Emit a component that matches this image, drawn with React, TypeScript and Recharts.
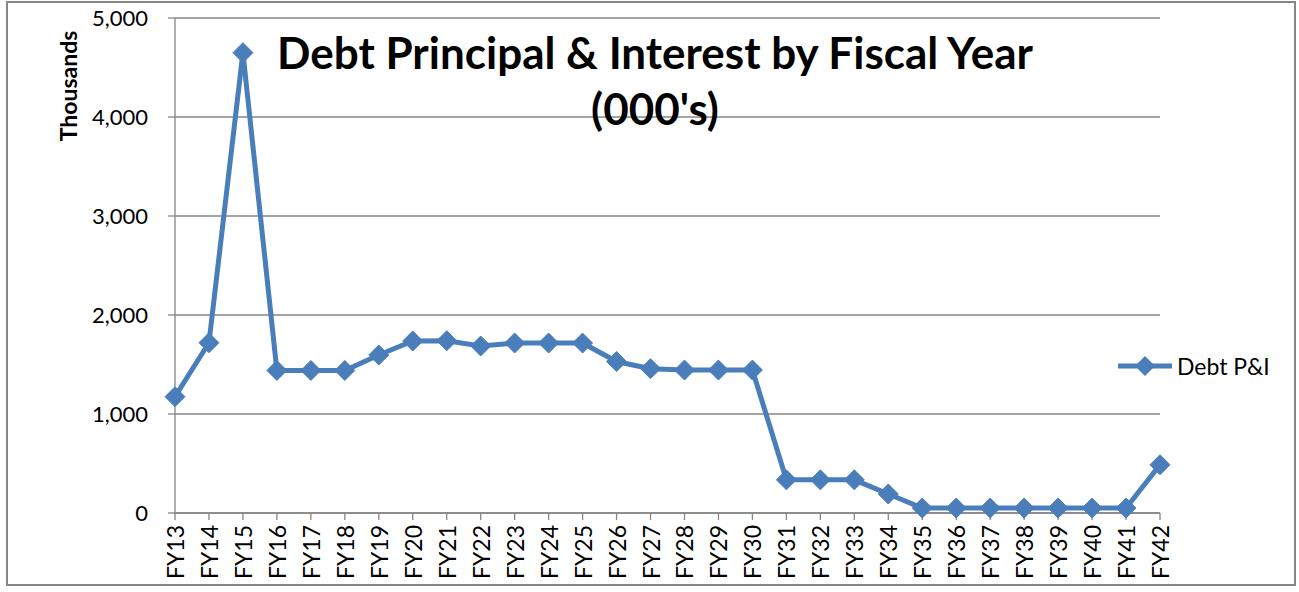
import React from "react";
import { LineChart, Line, XAxis, YAxis, CartesianGrid } from "recharts";

const years = [
  "FY13", "FY14", "FY15", "FY16", "FY17", "FY18", "FY19", "FY20", "FY21", "FY22",
  "FY23", "FY24", "FY25", "FY26", "FY27", "FY28", "FY29", "FY30", "FY31", "FY32",
  "FY33", "FY34", "FY35", "FY36", "FY37", "FY38", "FY39", "FY40", "FY41", "FY42",
];
const debtPI = [
  1175, 1720, 4650, 1440, 1440, 1440, 1596, 1737, 1740, 1687,
  1717, 1717, 1717, 1530, 1458, 1444, 1444, 1444, 335, 335,
  335, 192, 50, 50, 50, 50, 50, 50, 50, 487,
];
const yTicks = [0, 1000, 2000, 3000, 4000, 5000];

const BLUE = "#4A7EBB";
const GRAY = "#868686";
const FONT = "Lato, 'Open Sans', sans-serif";

const data = years.map((fy, i) => ({ fy, value: debtPI[i] }));

function Diamond(props: any) {
  const { cx, cy } = props;
  if (cx == null || cy == null) return null;
  const r = 10;
  return (
    <polygon
      points={`${cx},${cy - r} ${cx + r},${cy} ${cx},${cy + r} ${cx - r},${cy}`}
      fill={BLUE}
      stroke={BLUE}
    />
  );
}

function XTick(props: any) {
  const { x, y, payload } = props;
  return (
    <text
      x={x}
      y={y + 3}
      transform={`rotate(-90, ${x}, ${y + 3})`}
      textAnchor="end"
      dominantBaseline="central"
      fontSize={23}
      fontFamily={FONT}
      fill="#000"
    >
      {payload.value}
    </text>
  );
}

export default function App() {
  return (
    <div style={{ position: "fixed", left: 0, top: 0, width: 1299, height: 592, background: "#fff" }}>
      <div
        style={{
          position: "absolute",
          left: 6,
          top: 1,
          width: 1290,
          height: 585,
          border: `2px solid ${GRAY}`,
          boxSizing: "border-box",
        }}
      />
      <LineChart
        width={1299}
        height={592}
        data={data}
        margin={{ top: 18, right: 139, left: 115, bottom: 9 }}
      >
        <CartesianGrid vertical={false} stroke={GRAY} strokeWidth={1.3} />
        <XAxis
          dataKey="fy"
          stroke={GRAY}
          strokeWidth={1.3}
          tickSize={7}
          height={70}
          interval={0}
          tick={<XTick />}
        />
        <YAxis
          domain={[0, 5000]}
          ticks={yTicks}
          width={60}
          stroke={GRAY}
          strokeWidth={1.3}
          tickSize={7}
          tickMargin={20}
          tickFormatter={(v: number) => v.toLocaleString("en-US")}
          tick={{ fontSize: 22, fill: "#000", fontFamily: FONT }}
        />
        <Line
          type="linear"
          dataKey="value"
          name="Debt P&I"
          stroke={BLUE}
          strokeWidth={5}
          dot={<Diamond />}
          activeDot={false}
          isAnimationActive={false}
        />
      </LineChart>
      <div
        style={{
          position: "absolute",
          left: 1116,
          top: 352,
          display: "flex",
          alignItems: "center",
          fontFamily: FONT,
          fontSize: 23,
          whiteSpace: "nowrap",
        }}
      >
        <svg width={58} height={26}>
          <line x1={2} y1={13} x2={56} y2={13} stroke={BLUE} strokeWidth={5} />
          <polygon points="29,3 39,13 29,23 19,13" fill={BLUE} />
        </svg>
        <span style={{ marginLeft: 3, color: "#000" }}>Debt P&amp;I</span>
      </div>
      <div
        style={{
          position: "absolute",
          left: 150,
          width: 1010,
          top: 24,
          textAlign: "center",
          fontFamily: FONT,
          fontWeight: "bold",
          fontSize: 44,
          lineHeight: "56px",
          color: "#000",
        }}
      >
        Debt Principal &amp; Interest by Fiscal Year
        <br />
        (000's)
      </div>
      <div
        style={{
          position: "absolute",
          left: 68,
          top: 86,
          transform: "translate(-50%, -50%) rotate(-90deg)",
          fontFamily: FONT,
          fontWeight: "bold",
          fontSize: 23,
          color: "#000",
          whiteSpace: "nowrap",
        }}
      >
        Thousands
      </div>
    </div>
  );
}
